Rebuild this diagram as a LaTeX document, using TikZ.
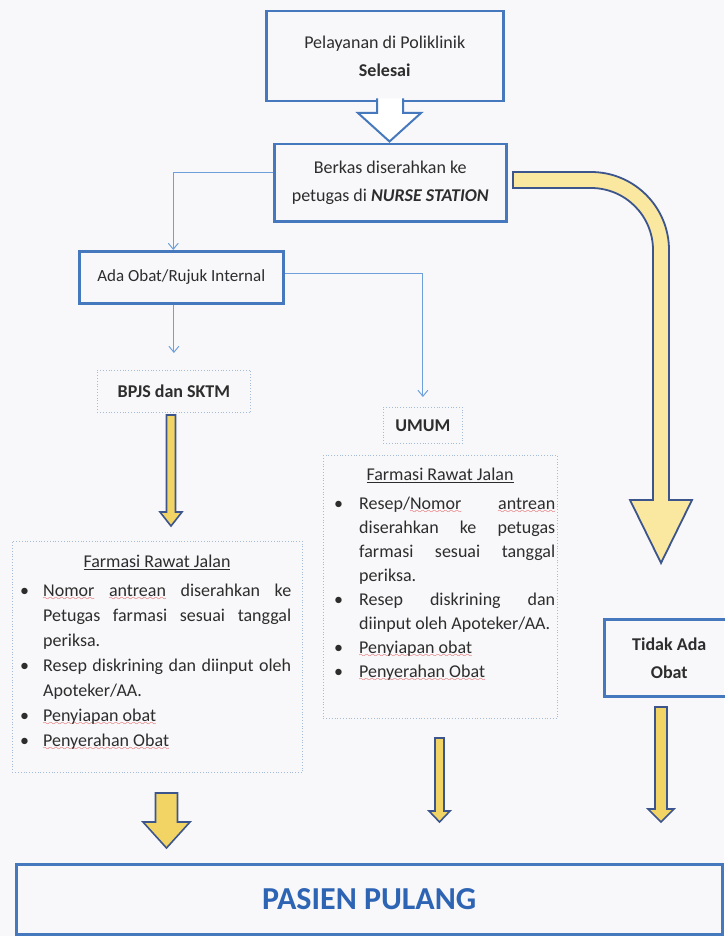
\documentclass[tikz,border=0pt]{standalone}
\usepackage{fontspec}
\setmainfont{Carlito}
\usetikzlibrary{arrows.meta}
\definecolor{bg}{RGB}{248,248,250}
\definecolor{boxblue}{RGB}{70,120,190}
\definecolor{dotblue}{RGB}{165,188,215}
\definecolor{connblue}{RGB}{110,160,220}
\definecolor{txt}{RGB}{45,45,45}
\definecolor{yfill}{RGB}{250,232,160}
\definecolor{ythin}{RGB}{242,212,100}
\definecolor{yline}{RGB}{60,85,140}
\definecolor{pasienblue}{RGB}{45,100,180}
\definecolor{wavered}{RGB}{220,40,40}
\hyphenpenalty=10000
\exhyphenpenalty=10000
\font\mywavefont=lasy8
\newsavebox\wavebox
\newcommand\redwave[1]{\leavevmode\sbox\wavebox{#1}\rlap{\raisebox{-4.5pt}{\textcolor{wavered}{\hbox to \wd\wavebox{\xleaders\hbox{\mywavefont\char58}\hfil}}}}\usebox\wavebox}
\newcommand\downblock[7]{\draw[#7] (#1-#5,#2) -- (#1+#5,#2) -- (#1+#5,#3) -- (#1+#6,#3) -- (#1,#4) -- (#1-#6,#3) -- (#1-#5,#3) -- cycle;}
\tikzset{
  mainbox/.style={draw=boxblue, line width=2.5pt, rectangle, anchor=north west, inner sep=0pt, align=center},
  dotbox/.style={draw=dotblue, line width=0.8pt, dotted, rectangle, anchor=north west, inner sep=0pt, align=center},
  conn/.style={draw=connblue, line width=1pt, -{Straight Barb[length=6pt,width=10pt]}},
  yarrow/.style={fill=ythin, draw=yline, line width=1.6pt, line join=miter},
  bigyarrow/.style={fill=yfill, draw=yline, line width=1.8pt, line join=miter},
  lead28/.style={font=\fontsize{18}{28}\selectfont}
}
\begin{document}
\begin{tikzpicture}[x=1pt,y=-1pt, font=\fontsize{18}{26}\selectfont, text=txt]
\useasboundingbox (0,0) rectangle (724,936);
\fill[bg] (0,0) rectangle (724,936);

% main boxes
\node[mainbox, lead28, minimum width=237pt, minimum height=90pt] (top) at (265,10)
  {Pelayanan di Poliklinik\\\textbf{Selesai}};
\node[mainbox, lead28, minimum width=232pt, minimum height=77pt] (nurse) at (273,143)
  {Berkas diserahkan ke\\petugas di \textbf{\textit{NURSE STATION}}};
\node[mainbox, font=\fontsize{17}{24}\selectfont, minimum width=204pt, minimum height=52pt] (ada) at (78,250)
  {Ada Obat/Rujuk Internal};
\node[dotbox, minimum width=153pt, minimum height=42pt] (bpjs) at (97,370) {\textbf{BPJS dan SKTM}};
\node[dotbox, minimum width=79pt, minimum height=36pt] (umum) at (383,407) {\textbf{UMUM}};
\node[mainbox, lead28, minimum width=130pt, minimum height=77pt] (tidak) at (603,618) {\textbf{Tidak Ada}\\\textbf{Obat}};
\node[mainbox, minimum width=706pt, minimum height=70pt, font=\fontsize{32}{36}\selectfont\bfseries, text=pasienblue] (pasien) at (15,863) {PASIEN PULANG};

% farmasi boxes
\node[dotbox, minimum width=290pt, minimum height=231pt] (farmL) at (12,541) {};
\node[dotbox, minimum width=234pt, minimum height=263pt] (farmR) at (323,455) {};
\node (titleL) at (157,562) {\underline{Farmasi Rawat Jalan}};
\node (titleR) at (440,475) {\underline{Farmasi Rawat Jalan}};

\node[anchor=north west, text width=275pt, align=justify, inner sep=0pt, font=\fontsize{18}{25}\selectfont] (listL) at (16,571) {%
\begin{list}{\textbullet}{\leftmargin=27pt \labelwidth=10pt \labelsep=14pt \itemsep=0pt \parsep=0pt \topsep=0pt \partopsep=0pt}
\item \strut\redwave{Nomor} \redwave{antrean} diserahkan ke\linebreak Petugas farmasi sesuai tanggal\linebreak periksa.
\item Resep diskrining dan diinput oleh\linebreak Apoteker/AA.
\item \rule{0pt}{21pt}\redwave{Penyiapan obat}
\item \redwave{Penyerahan Obat}
\end{list}};

\node[anchor=north west, text width=225pt, align=justify, inner sep=0pt, font=\fontsize{18}{24}\selectfont] (listR) at (330,485) {%
\begin{list}{\textbullet}{\leftmargin=29pt \labelwidth=10pt \labelsep=16pt \itemsep=0pt \parsep=0pt \topsep=0pt \partopsep=0pt}
\item \strut Resep/\redwave{Nomor} \redwave{antrean}\linebreak diserahkan ke petugas\linebreak farmasi sesuai tanggal\linebreak periksa.
\item Resep diskrining dan\linebreak diinput oleh Apoteker/AA.
\item \redwave{Penyiapan obat}
\item \redwave{Penyerahan Obat}
\end{list}};

% hollow block arrow between top boxes
\filldraw[fill=white, draw=boxblue, line width=2pt, line join=miter] (377,98.5) -- (377,113) -- (358,113) -- (389.5,141.5) -- (421,113) -- (403,113) -- (403,98.5);

% thin connectors
\draw[conn] ([yshift=10pt]nurse.west) -| ([xshift=-8pt]ada.north);
\draw[conn, shorten >=17pt] (ada.south -| bpjs.north) -- (bpjs.north);
\draw[conn, shorten >=10pt] ([yshift=4pt]ada.east) -| (umum.north);

% big curved arrow
\draw[bigyarrow] (513,172) -- (591,172) arc[start angle=-90, end angle=0, radius=78] -- (669,500) -- (692,500) -- (661,563) -- (630,500) -- (653,500) -- (653,250) arc[start angle=0, end angle=-90, radius=62] -- (513,188) -- cycle;

% yellow block arrows
\downblock{171}{415}{512}{526}{4.5}{11}{yarrow}
\downblock{166.5}{793}{822}{848}{11}{23.5}{yarrow}
\downblock{439.5}{738}{811}{822}{4.5}{10.5}{yarrow}
\downblock{661}{707}{809}{822}{6}{13}{yarrow}
\end{tikzpicture}
\end{document}
